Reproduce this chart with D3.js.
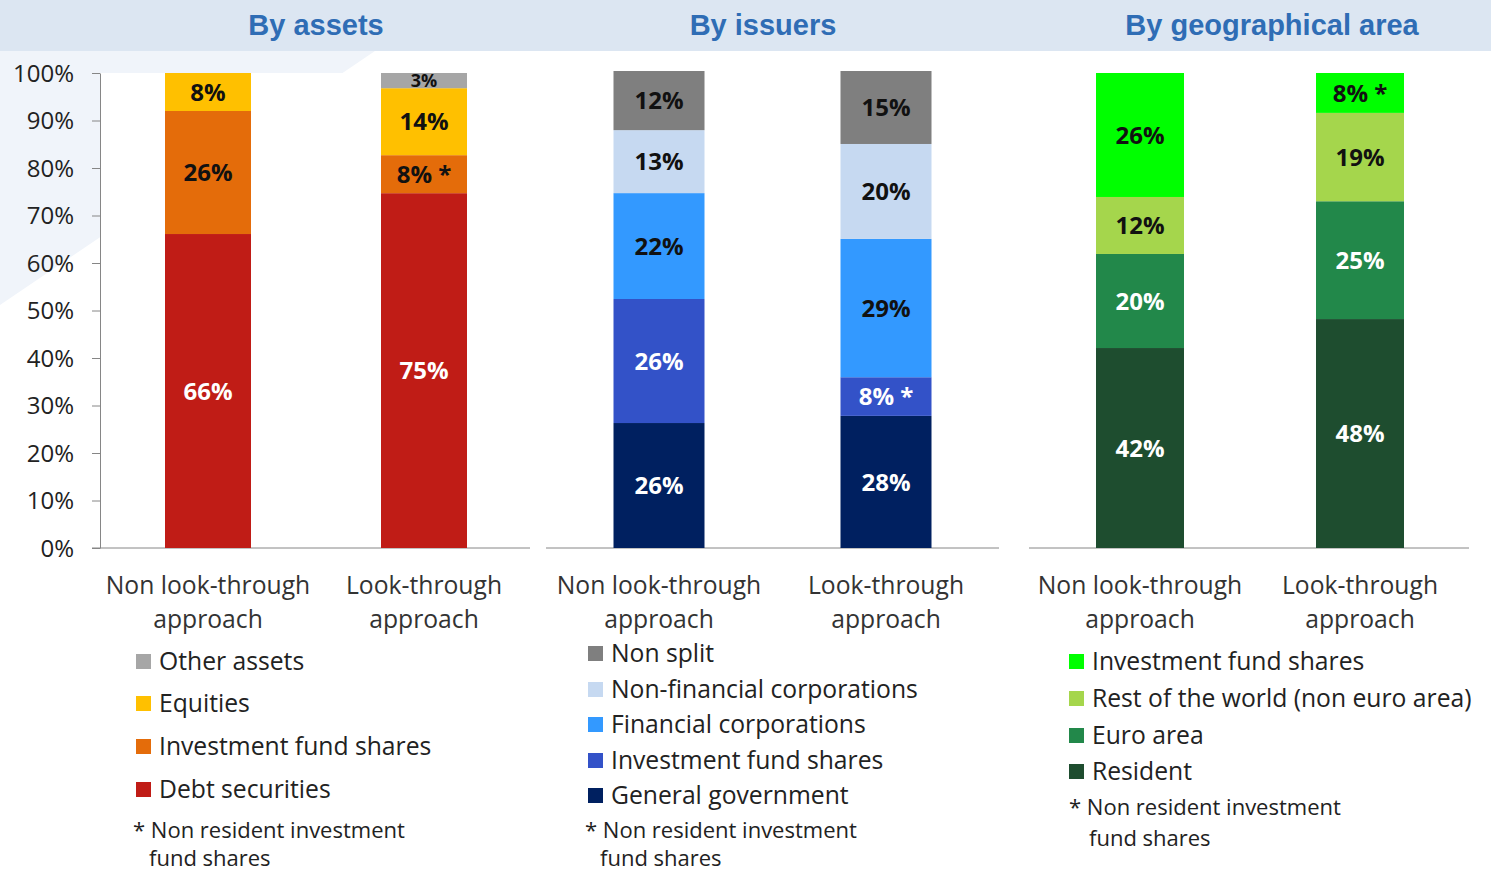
<!DOCTYPE html>
<html><head><meta charset="utf-8">
<script src="https://cdn.jsdelivr.net/npm/d3@7"></script>
<style>body{margin:0;background:#fff;}svg{display:block;}</style>
</head><body>
<svg id="c" width="1491" height="871"></svg>
<script>
// ---------- data ----------
const panelTitles = ["By assets", "By issuers", "By geographical area"];
const categories = [["Non look-through", "approach"], ["Look-through", "approach"]];
const yTicks = [0, 10, 20, 30, 40, 50, 60, 70, 80, 90, 100];

const assetSeries = ["Debt securities", "Investment fund shares", "Equities", "Other assets"];
const assetNonLT = [66.1, 25.9, 8.0, 0];
const assetLT = [74.7, 8.0, 14.1, 3.2];
const assetLabelsNonLT = ["66%", "26%", "8%", ""];
const assetLabelsLT = ["75%", "8% *", "14%", "3%"];

const issuerSeries = ["General government", "Investment fund shares", "Financial corporations", "Non-financial corporations", "Non split"];
const issuerNonLT = [26.2, 26.0, 22.2, 13.2, 12.4];
const issuerLT = [27.7, 8.1, 29.0, 19.9, 15.3];
const issuerLabelsNonLT = ["26%", "26%", "22%", "13%", "12%"];
const issuerLabelsLT = ["28%", "8% *", "29%", "20%", "15%"];

const geoSeries = ["Resident", "Euro area", "Rest of the world (non euro area)", "Investment fund shares"];
const geoNonLT = [42.1, 19.8, 12.0, 26.1];
const geoLT = [48.2, 24.8, 18.6, 8.4];
const geoLabelsNonLT = ["42%", "20%", "12%", "26%"];
const geoLabelsLT = ["48%", "25%", "19%", "8% *"];

const footnote = ["* Non resident investment", "fund shares"];

// ---------- style ----------
const assetColors = ["#c01c16", "#e46c0a", "#ffc000", "#a6a6a6"];
const assetText = ["#fff", "#111", "#111", "#111"];
const issuerColors = ["#002060", "#3352c8", "#3399ff", "#c6d9f1", "#7f7f7f"];
const issuerText = ["#fff", "#fff", "#111", "#111", "#111"];
const geoColors = ["#1e4d2f", "#22884a", "#a5d64c", "#00ff00"];
const geoText = ["#fff", "#fff", "#111", "#111"];

const svg = d3.select("#c");
const FONT = "'Open Sans', 'Noto Sans', sans-serif";

// background decoration
svg.append("rect").attr("x", 0).attr("y", 0).attr("width", 1491).attr("height", 51).attr("fill", "#dce6f2");
svg.append("path").attr("d", "M0,51 L375,51 L0,305 Z").attr("fill", "#f0f4fa");

const panels = [
  {title: panelTitles[0], tx: 316, x0: 92, x1: 530, bx: [208, 424], bw: 86, top: 73, axis: true,
   series: assetSeries, vals: [assetNonLT, assetLT], labs: [assetLabelsNonLT, assetLabelsLT], colors: assetColors, tcol: assetText,
   legendOrder: [3, 2, 1, 0], lx: 136, ly: [661, 703, 746, 789], fy: [830, 858], fx: 133, fx2: 149},
  {title: panelTitles[1], tx: 763, x0: 546, x1: 999, bx: [659, 886], bw: 91, top: 71, axis: false,
   series: issuerSeries, vals: [issuerNonLT, issuerLT], labs: [issuerLabelsNonLT, issuerLabelsLT], colors: issuerColors, tcol: issuerText,
   legendOrder: [4, 3, 2, 1, 0], lx: 588, ly: [653, 689, 724, 760, 795], fy: [830, 858], fx: 585, fx2: 600},
  {title: panelTitles[2], tx: 1272, x0: 1029, x1: 1469, bx: [1140, 1360], bw: 88, top: 73, axis: false,
   series: geoSeries, vals: [geoNonLT, geoLT], labs: [geoLabelsNonLT, geoLabelsLT], colors: geoColors, tcol: geoText,
   legendOrder: [3, 2, 1, 0], lx: 1069, ly: [661, 698, 735, 771], fy: [807, 838], fx: 1069, fx2: 1089}
];

panels.forEach((p, pi) => {
  const y = d3.scaleLinear().domain([0, 100]).range([548, p.top]);
  const g = svg.append("g");

  // title
  g.append("text").attr("x", p.tx).attr("y", 35).attr("text-anchor", "middle")
    .attr("font-family", "'Liberation Sans', Arial, sans-serif").attr("font-weight", "bold")
    .attr("font-size", 29).attr("fill", "#2f6db5").text(p.title);

  if (p.axis) {
    g.append("rect").attr("x", 100).attr("y", y(100)).attr("width", p.x1 - 100).attr("height", 548 - y(100)).attr("fill", "#fff");
    const ax = d3.axisLeft(y).tickValues(yTicks).tickFormat(d => d + "%").tickSize(8).tickSizeOuter(0);
    const axg = g.append("g").attr("transform", "translate(100,0)").call(ax);
    axg.select(".domain").attr("stroke", "#868686");
    axg.selectAll(".tick line").attr("stroke", "#868686");
    axg.selectAll(".tick text").attr("font-family", FONT).attr("font-size", 24).attr("fill", "#222").attr("x", -26).attr("dy", "0.35em");
  }
  // baseline
  g.append("line").attr("x1", p.x0).attr("x2", p.x1).attr("y1", 548).attr("y2", 548).attr("stroke", "#868686").attr("stroke-width", 1);

  // bars
  p.vals.forEach((vals, bi) => {
    const cum = Array.from(d3.cumsum(vals));
    vals.forEach((v, si) => {
      if (v <= 0) return;
      const y0 = y(cum[si] - v), y1 = y(cum[si]);
      g.append("rect").attr("x", p.bx[bi] - p.bw / 2).attr("width", p.bw)
        .attr("y", y1).attr("height", y0 - y1).attr("fill", p.colors[si]);
      const lab = p.labs[bi][si];
      if (lab) {
        const small = v < 5;
        g.append("text").attr("x", p.bx[bi]).attr("y", (y0 + y1) / 2).attr("dy", "0.36em")
          .attr("text-anchor", "middle").attr("font-family", FONT).attr("font-weight", "bold")
          .attr("font-size", small ? 18 : 24).attr("fill", p.tcol[si]).text(lab);
      }
    });
    // category labels
    categories[bi].forEach((line, li) => {
      g.append("text").attr("x", p.bx[bi]).attr("y", 585 + li * 34).attr("dy", "0.36em")
        .attr("text-anchor", "middle").attr("font-family", FONT).attr("font-size", 24.7).attr("fill", "#333").text(line);
    });
  });

  // legend
  p.legendOrder.forEach((si, k) => {
    g.append("rect").attr("x", p.lx).attr("y", p.ly[k] - 7).attr("width", 15).attr("height", 15).attr("fill", p.colors[si]);
    g.append("text").attr("x", p.lx + 23).attr("y", p.ly[k]).attr("dy", "0.36em")
      .attr("font-family", FONT).attr("font-size", 24.7).attr("fill", "#222").text(p.series[si]);
  });
  // footnote
  g.append("text").attr("x", p.fx).attr("y", p.fy[0]).attr("dy", "0.36em")
    .attr("font-family", FONT).attr("font-size", 22).attr("fill", "#222").text(footnote[0]);
  g.append("text").attr("x", p.fx2).attr("y", p.fy[1]).attr("dy", "0.36em")
    .attr("font-family", FONT).attr("font-size", 22).attr("fill", "#222").text(footnote[1]);
});
</script>
</body></html>
